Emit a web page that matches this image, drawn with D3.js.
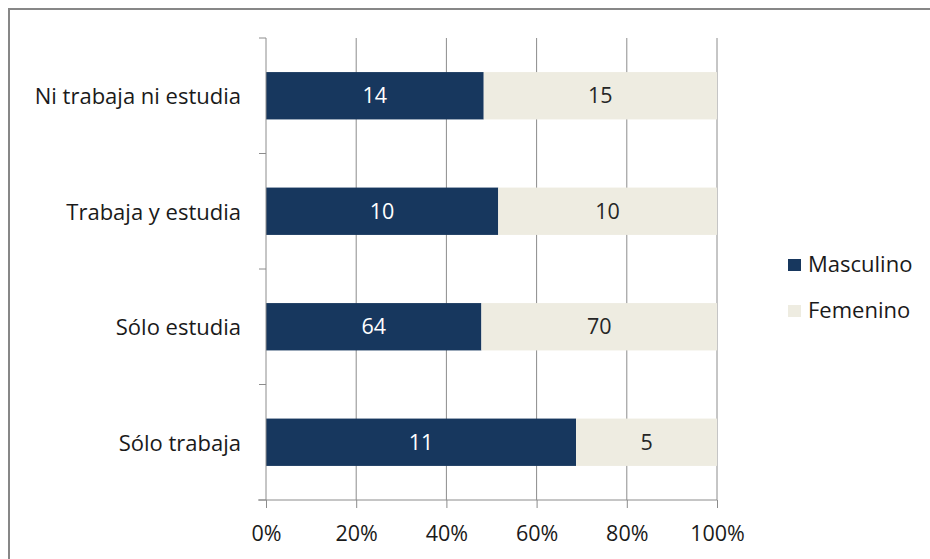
<!DOCTYPE html>
<html><head><meta charset="utf-8">
<script src="https://cdn.jsdelivr.net/npm/d3@7"></script>
<style>body{margin:0;background:#fff;} svg{display:block;}</style>
</head><body>
<svg id="c" width="930" height="559"></svg>
<script>
const categories = ["Ni trabaja ni estudia", "Trabaja y estudia", "Sólo estudia", "Sólo trabaja"];
const masculino = [14, 10.4, 64, 11];
const femenino = [15, 9.8, 70, 5];
const seriesNames = ["Masculino", "Femenino"];
const tickLabels = ["0%", "20%", "40%", "60%", "80%", "100%"];

const colors = ["#17375E", "#EEECE1"];
const textColors = ["#ffffff", "#262626"];
const font = "'Open Sans', sans-serif";

const svg = d3.select("#c");
// outer frame
svg.append("rect").attr("x", 9).attr("y", 9).attr("width", 940).attr("height", 560)
  .attr("fill", "none").attr("stroke", "#878787").attr("stroke-width", 2);

const m = {left: 266, right: 717, top: 38, bottom: 500};
const x = d3.scaleLinear().domain([0, 1]).range([m.left, m.right]);
const y = d3.scaleBand().domain(categories).range([m.top, m.bottom]).paddingInner(0.59).paddingOuter(0.295);
const yb = d3.scaleBand().domain(categories).range([m.top, m.bottom]);

const data = categories.map((c, i) => {
  const t = masculino[i] + femenino[i];
  return {cat: c, vals: [masculino[i], femenino[i]], p: [masculino[i] / t, femenino[i] / t]};
});

// gridlines
const g = svg.append("g");
g.selectAll("line.grid").data(d3.range(0.2, 1.01, 0.2)).join("line")
  .attr("x1", d => x(d)).attr("x2", d => x(d))
  .attr("y1", m.top).attr("y2", m.bottom)
  .attr("stroke", "#8c8c8c").attr("stroke-width", 1);

// bars
data.forEach(d => {
  let acc = 0;
  d.p.forEach((p, j) => {
    const x0 = x(acc), x1 = x(acc + p);
    svg.append("rect").attr("x", x0).attr("y", y(d.cat)).attr("width", x1 - x0).attr("height", y.bandwidth())
      .attr("fill", colors[j]);
    svg.append("text").attr("x", (x0 + x1) / 2).attr("y", y(d.cat) + y.bandwidth() / 2)
      .attr("dy", "0.36em").attr("text-anchor", "middle")
      .attr("font-family", font).attr("font-size", 21.5).attr("fill", textColors[j])
      .text(Math.round(d.vals[j]));
    acc += p;
  });
});

// y axis
const yAxisG = svg.append("g");
yAxisG.append("line").attr("x1", m.left).attr("x2", m.left).attr("y1", m.top).attr("y2", m.bottom)
  .attr("stroke", "#8c8c8c");
const bounds = categories.map(c => yb(c)).concat([m.bottom]);
yAxisG.selectAll("line.t").data(bounds).join("line")
  .attr("x1", m.left - 7).attr("x2", m.left).attr("y1", d => d).attr("y2", d => d)
  .attr("stroke", "#8c8c8c");
yAxisG.selectAll("text").data(categories).join("text")
  .attr("x", 241).attr("y", d => yb(d) + yb.bandwidth() / 2).attr("dy", "0.38em")
  .attr("text-anchor", "end").attr("font-family", font).attr("font-size", 22).attr("fill", "#1a1a1a")
  .text(d => d);

// x axis
const xAxisG = svg.append("g").attr("transform", `translate(0,${m.bottom})`);
xAxisG.call(d3.axisBottom(x).tickValues(d3.range(0, 1.01, 0.2)).tickSize(8)
  .tickFormat((d, i) => tickLabels[i]));
xAxisG.select(".domain").remove();
xAxisG.append("line").attr("x1", m.left - 8).attr("x2", m.right).attr("y1", 0).attr("y2", 0).attr("stroke", "#8c8c8c");
xAxisG.selectAll(".tick line").attr("stroke", "#8c8c8c");
xAxisG.selectAll(".tick text").attr("font-family", font).attr("font-size", 21.5).attr("fill", "#1a1a1a")
  .attr("dy", 0).attr("y", 41);

// legend
const lg = svg.append("g");
seriesNames.forEach((s, i) => {
  const cy = 265 + i * 46;
  lg.append("rect").attr("x", 788).attr("y", cy - 6).attr("width", 13).attr("height", 12).attr("fill", colors[i]);
  lg.append("text").attr("x", 808).attr("y", cy).attr("dy", "0.32em")
    .attr("font-family", font).attr("font-size", 22).attr("fill", "#1a1a1a").text(s);
});
</script>
</body></html>
